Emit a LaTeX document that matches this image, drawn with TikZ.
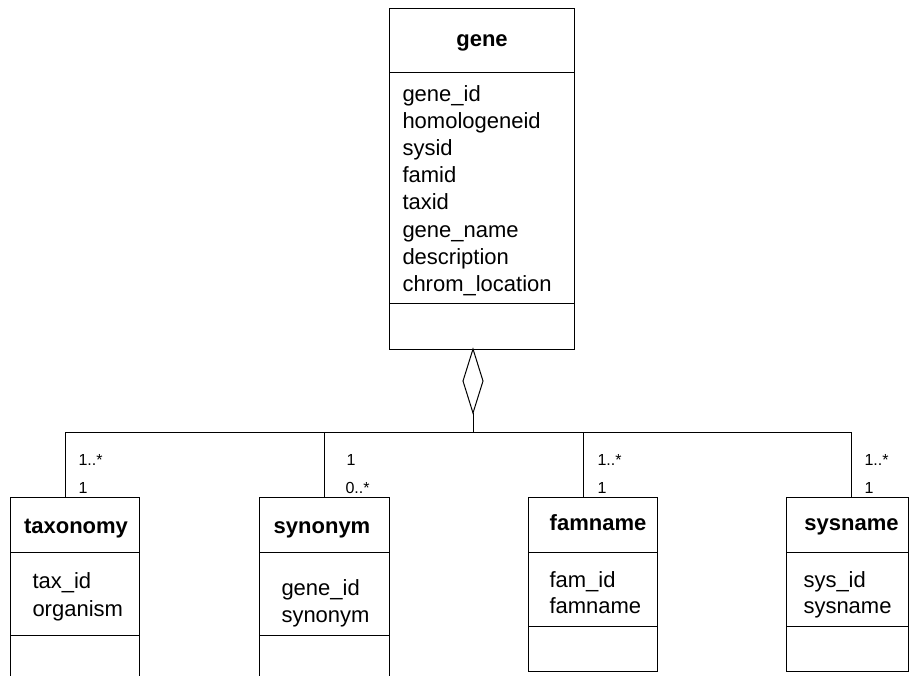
\documentclass[tikz,border=0pt]{standalone}
\usepackage{fontspec}
\setmainfont{Liberation Sans}
\usetikzlibrary{shapes.geometric}
\begin{document}
\begin{tikzpicture}[x=1pt,y=-1pt,
  line width=1pt,
  classbox/.style={draw, rectangle, inner sep=0pt, outer sep=0pt},
  classtitle/.style={font=\fontsize{22}{26}\selectfont\bfseries, anchor=base, inner sep=0pt},
  attr/.style={font=\fontsize{22}{26}\selectfont, anchor=base west, inner sep=0pt},
  mult/.style={font=\fontsize{16}{19}\selectfont, anchor=base west, inner sep=0pt},
  aggr/.style={draw, diamond, inner sep=0pt, outer sep=0pt,
               minimum width=20pt, minimum height=64pt, fill=white}]
\useasboundingbox (0,0) rectangle (909,676);
\clip (0,0) rectangle (909,676);

% ---- gene class ----
\node[classbox, minimum width=185pt, minimum height=340pt] (gene) at (481.5,179) {};
\draw (gene.west |- 0,73) -- (gene.east |- 0,73);
\draw (gene.west |- 0,303) -- (gene.east |- 0,303);
\node[classtitle] (genet) at (482,47) {gene};
\foreach \t [count=\i from 0] in {gene\_id,homologeneid,sysid,famid,taxid,gene\_name,description,chrom\_location}
  \node[attr] (ga\i) at (402,102+27*\i) {\t};

% ---- aggregation diamond ----
\node[aggr] (dia) at (473,381) {};

% ---- taxonomy class ----
\node[classbox, minimum width=129pt, minimum height=210pt] (tax) at (74.5,602) {};
\draw (tax.west |- 0,552) -- (tax.east |- 0,552);
\draw (tax.west |- 0,635) -- (tax.east |- 0,635);
\node[classtitle] (taxt) at (76,533) {taxonomy};
\node[attr] (taxa1) at (32,588) {tax\_id};
\node[attr] (taxa2) at (32,616) {organism};

% ---- synonym class ----
\node[classbox, minimum width=130pt, minimum height=210pt] (syn) at (324,602) {};
\draw (syn.west |- 0,552) -- (syn.east |- 0,552);
\draw (syn.west |- 0,635) -- (syn.east |- 0,635);
\node[classtitle] (synt) at (322,533) {synonym};
\node[attr] (syna1) at (281,595) {gene\_id};
\node[attr] (syna2) at (281,622) {synonym};

% ---- famname class ----
\node[classbox, minimum width=129pt, minimum height=174pt] (fam) at (592.5,584) {};
\draw (fam.west |- 0,552) -- (fam.east |- 0,552);
\draw (fam.west |- 0,626) -- (fam.east |- 0,626);
\node[classtitle] (famt) at (598,530) {famname};
\node[attr] (fama1) at (549,587) {fam\_id};
\node[attr] (fama2) at (549,613) {famname};

% ---- sysname class ----
\node[classbox, minimum width=122pt, minimum height=174pt] (sys) at (847,584) {};
\draw (sys.west |- 0,552) -- (sys.east |- 0,552);
\draw (sys.west |- 0,626) -- (sys.east |- 0,626);
\node[classtitle] (syst) at (851.5,530) {sysname};
\node[attr] (sysa1) at (803,587) {sys\_id};
\node[attr] (sysa2) at (803,613) {sysname};

% ---- connectors ----
\coordinate (jt) at (65,432);
\coordinate (js) at (324,432);
\coordinate (jf) at (583,432);
\coordinate (jy) at (851,432);
\draw (dia.south) -- (dia.south |- jt);
\draw (tax.north -| jt) -- (jt) -- (jy) -- (jy |- sys.north);
\draw (js) -- (js |- syn.north);
\draw (jf) -- (jf |- fam.north);

% ---- multiplicities ----
\node[mult] (mt1) at (78,465) {1..*};
\node[mult] (mt2) at (78,493) {1};
\node[mult] (ms1) at (346,465) {1};
\node[mult] (ms2) at (345,493) {0..*};
\node[mult] (mf1) at (597,465) {1..*};
\node[mult] (mf2) at (597,493) {1};
\node[mult] (my1) at (864,465) {1..*};
\node[mult] (my2) at (864,493) {1};
\end{tikzpicture}
\end{document}
